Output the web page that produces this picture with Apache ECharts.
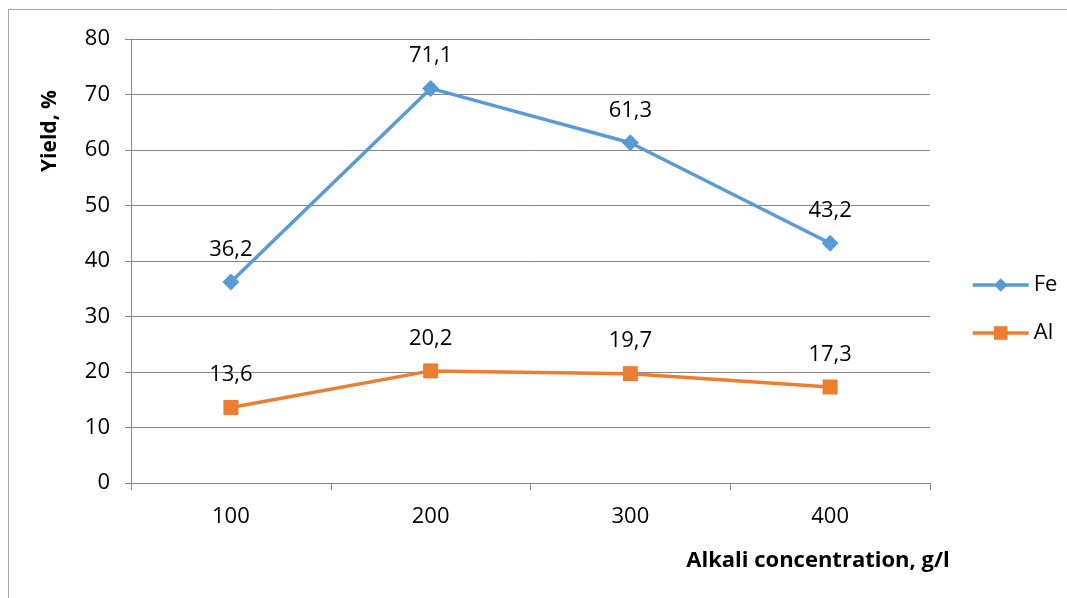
<!DOCTYPE html>
<html>
<head>
<meta charset="utf-8">
<script src="https://cdn.jsdelivr.net/npm/echarts@6/dist/echarts.min.js"></script>
<style>
  html, body { margin: 0; padding: 0; background: #fff; }
  #chart { width: 1067px; height: 598px; }
</style>
</head>
<body>
<div id="chart"></div>
<script>
// Alkali concentration (g/l) and metal yield (%)
const categories = ['100', '200', '300', '400'];
const feValues = [36.2, 71.1, 61.3, 43.2];
const alValues = [13.6, 20.2, 19.7, 17.3];
const yTicks = { min: 0, max: 80, interval: 10 };

const FONT = '"Open Sans", "Noto Sans", sans-serif';
const chart = echarts.init(document.getElementById('chart'));

const fmt = p => String(p.value).replace('.', ',');

chart.setOption({
  animation: false,
  backgroundColor: '#fff',
  grid: { left: 131, right: 137, top: 39, bottom: 115 },
  graphic: [
    {
      type: 'rect',
      shape: { x: 8.5, y: 9.5, width: 1070, height: 600 },
      style: { fill: 'none', stroke: '#a6a6a6', lineWidth: 1 }
    },
    {
      type: 'text',
      x: 50, y: 131, rotation: Math.PI / 2,
      style: {
        text: 'Yield, %', font: 'bold 21px ' + FONT, fill: '#000',
        textAlign: 'center', textVerticalAlign: 'middle'
      }
    },
    {
      type: 'text',
      x: 818, y: 561,
      style: {
        text: 'Alkali concentration, g/l', font: 'bold 22px ' + FONT, fill: '#000',
        textAlign: 'center', textVerticalAlign: 'middle'
      }
    }
  ],
  legend: {
    orient: 'vertical',
    left: 966, top: 269,
    itemGap: 26,
    itemWidth: 56, itemHeight: 17,
    lineStyle: { width: 3.5 },
    textStyle: { fontFamily: FONT, fontSize: 22, color: '#000' },
    data: ['Fe', 'Al']
  },
  xAxis: {
    type: 'category',
    data: categories,
    boundaryGap: true,
    axisLine: { lineStyle: { color: '#868686', width: 1 } },
    axisTick: { show: true, length: 7, lineStyle: { color: '#868686' } },
    axisLabel: { fontFamily: FONT, fontSize: 22, color: '#000', margin: 23 }
  },
  yAxis: {
    type: 'value',
    min: yTicks.min, max: yTicks.max, interval: yTicks.interval,
    axisLine: { show: true, lineStyle: { color: '#868686', width: 1 } },
    axisTick: { show: true, length: 6, lineStyle: { color: '#868686' } },
    axisLabel: { fontFamily: FONT, fontSize: 22, color: '#000', margin: 21 },
    splitLine: { lineStyle: { color: '#868686', width: 1 } }
  },
  series: [
    {
      name: 'Fe', type: 'line', data: feValues,
      symbol: 'diamond', symbolSize: 17,
      lineStyle: { color: '#5B9BD5', width: 3.5 },
      itemStyle: { color: '#5B9BD5' },
      label: {
        show: true, position: 'top', distance: 13, formatter: fmt,
        fontFamily: FONT, fontSize: 22, color: '#000'
      }
    },
    {
      name: 'Al', type: 'line', data: alValues,
      symbol: 'rect', symbolSize: 15,
      lineStyle: { color: '#ED7D31', width: 3.5 },
      itemStyle: { color: '#ED7D31' },
      label: {
        show: true, position: 'top', distance: 14, formatter: fmt,
        fontFamily: FONT, fontSize: 22, color: '#000'
      }
    }
  ]
});
</script>
</body>
</html>
